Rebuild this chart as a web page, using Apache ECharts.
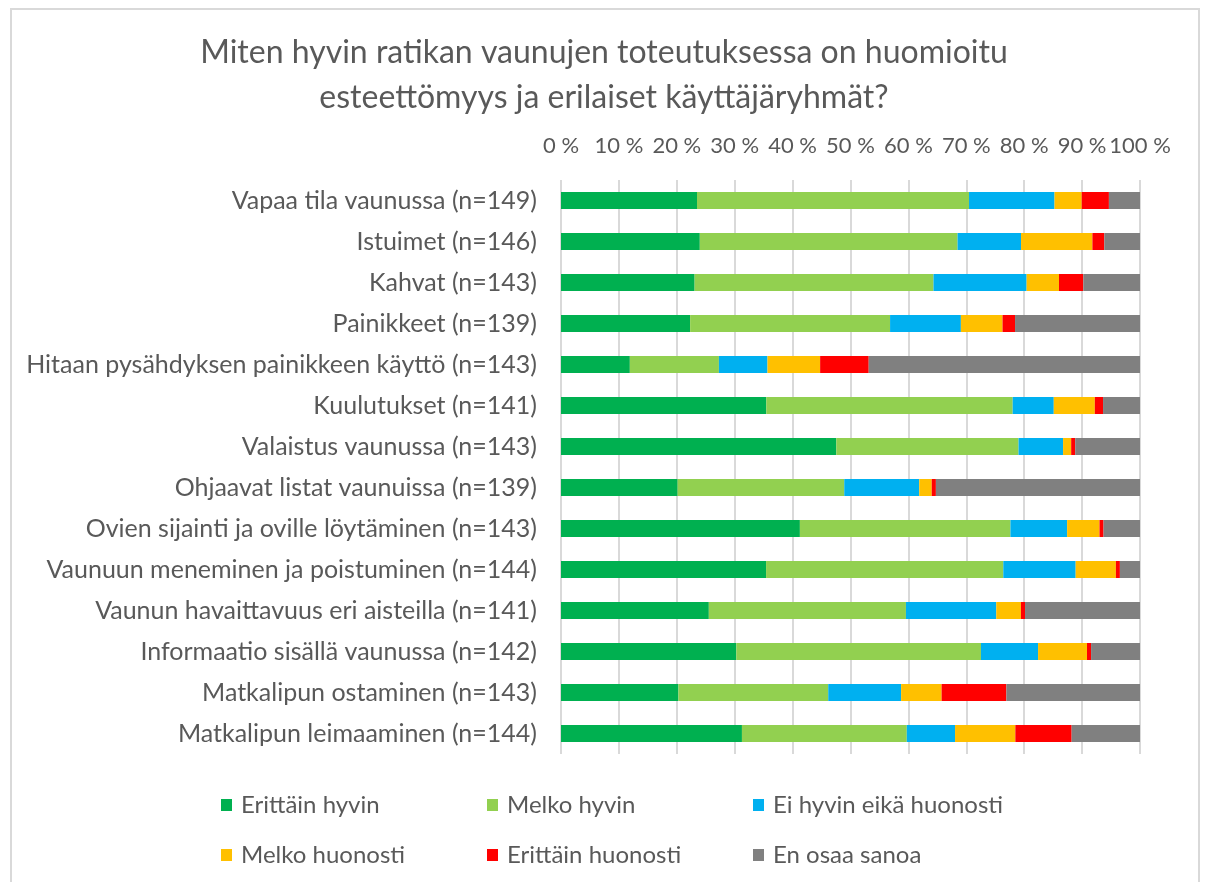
<!DOCTYPE html>
<html>
<head>
<meta charset="utf-8">
<script src="https://cdn.jsdelivr.net/npm/echarts@6/dist/echarts.min.js"></script>
<style>
  html, body { margin: 0; padding: 0; background: #ffffff; }
  #chart { width: 1208px; height: 882px; }
</style>
</head>
<body>
<div id="chart"></div>
<script>
// Survey: how well accessibility was considered in the tram cars (answer counts per item)
const categories = [
  'Vapaa tila vaunussa (n=149)',
  'Istuimet (n=146)',
  'Kahvat (n=143)',
  'Painikkeet (n=139)',
  'Hitaan pysähdyksen painikkeen käyttö (n=143)',
  'Kuulutukset (n=141)',
  'Valaistus vaunussa (n=143)',
  'Ohjaavat listat vaunuissa (n=139)',
  'Ovien sijainti ja oville löytäminen (n=143)',
  'Vaunuun meneminen ja poistuminen (n=144)',
  'Vaunun havaittavuus eri aisteilla (n=141)',
  'Informaatio sisällä vaunussa (n=142)',
  'Matkalipun ostaminen (n=143)',
  'Matkalipun leimaaminen (n=144)'
];
const respondents = [149, 146, 143, 139, 143, 141, 143, 139, 143, 144, 141, 142, 143, 144];

const erittainHyvin   = [35, 35, 33, 31, 17, 50, 68, 28, 59, 51, 36, 43, 29, 45];
const melkoHyvin      = [70, 65, 59, 48, 22, 60, 45, 40, 52, 59, 48, 60, 37, 41];
const eiHyvinEikaHuon = [22, 16, 23, 17, 12, 10, 11, 18, 14, 18, 22, 14, 18, 12];
const melkoHuonosti   = [ 7, 18,  8, 10, 13, 10,  2,  3,  8, 10,  6, 12, 10, 15];
const erittainHuon    = [ 7,  3,  6,  3, 12,  2,  1,  1,  1,  1,  1,  1, 16, 14];
const enOsaaSanoa     = [ 8,  9, 14, 30, 67,  9, 16, 49,  9,  5, 28, 12, 33, 17];

const seriesNames = ['Erittäin hyvin', 'Melko hyvin', 'Ei hyvin eikä huonosti',
                     'Melko huonosti', 'Erittäin huonosti', 'En osaa sanoa'];
const seriesCounts = [erittainHyvin, melkoHyvin, eiHyvinEikaHuon,
                      melkoHuonosti, erittainHuon, enOsaaSanoa];
const seriesColors = ['#00B050', '#92D050', '#00B0F0', '#FFC000', '#FF0000', '#808080'];

const TEXT = '#595959';
const FONT = 'Lato';

// share of respondents in percent
const pct = counts => counts.map((c, i) => c / respondents[i] * 100);

// legend laid out in three columns, two rows
const legendCols = [216, 482, 748];
const legendRows = [788, 838];
const legends = seriesNames.map((name, i) => ({
  data: [name],
  left: legendCols[i % 3],
  top: legendRows[Math.floor(i / 3)],
  icon: 'rect',
  itemWidth: 11,
  itemHeight: 12,
  itemGap: 0,
  selectedMode: false,
  textStyle: { color: TEXT, fontSize: 24, fontFamily: FONT, padding: [0, 0, 0, 4] }
}));

const chart = echarts.init(document.getElementById('chart'), null, { renderer: 'canvas' });
chart.setOption({
  backgroundColor: '#ffffff',
  animation: false,
  graphic: [{
    type: 'rect',
    shape: { x: 11, y: 9, width: 1188, height: 890 },
    style: { fill: 'none', stroke: '#d9d9d9', lineWidth: 2 },
    silent: true
  }],
  title: {
    text: 'Miten hyvin ratikan vaunujen toteutuksessa on huomioitu\nesteettömyys ja erilaiset käyttäjäryhmät?',
    left: 'center',
    top: 25,
    textStyle: { color: TEXT, fontSize: 32, fontWeight: 'normal', fontFamily: FONT, lineHeight: 45 }
  },
  legend: legends,
  grid: { left: 561, right: 68, top: 180, bottom: 128, containLabel: false },
  xAxis: {
    type: 'value',
    position: 'top',
    min: 0,
    max: 100,
    interval: 10,
    axisLine: { show: false },
    axisTick: { show: false },
    axisLabel: { formatter: '{value} %', color: TEXT, fontSize: 22, fontFamily: FONT, margin: 23, hideOverlap: false },
    splitLine: { lineStyle: { color: '#d9d9d9', width: 2 } }
  },
  yAxis: {
    type: 'category',
    inverse: true,
    data: categories,
    axisLine: { show: false },
    axisTick: { show: false },
    axisLabel: { color: TEXT, fontSize: 25, fontFamily: FONT, margin: 24 }
  },
  series: seriesNames.map((name, i) => ({
    name,
    type: 'bar',
    stack: 'total',
    barWidth: 17,
    itemStyle: { color: seriesColors[i] },
    data: pct(seriesCounts[i])
  }))
});
</script>
</body>
</html>
